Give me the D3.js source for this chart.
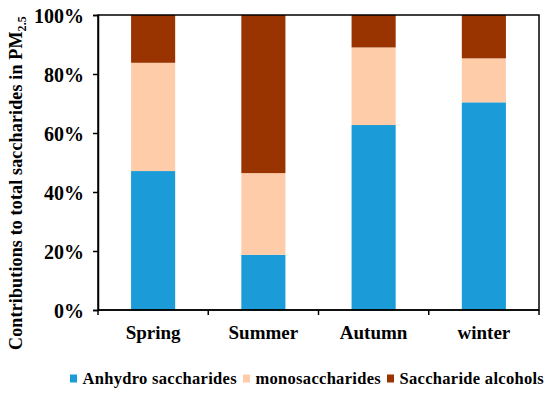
<!DOCTYPE html>
<html><head><meta charset="utf-8">
<script src="https://cdn.jsdelivr.net/npm/d3@7"></script>
<style>body{margin:0;background:#fff}svg{display:block}</style>
</head><body><svg id="c" width="550" height="394"></svg>
<script>
const categories = ["Spring","Summer","Autumn","winter"];
const seriesNames = ["Anhydro saccharides","monosaccharides","Saccharide alcohols"];
const anhydro = [0.471, 0.187, 0.627, 0.704];
const mono = [0.367, 0.277, 0.263, 0.149];
const alcohols = [0.162, 0.536, 0.110, 0.147];
const yTicks = [0,0.2,0.4,0.6,0.8,1.0];
const colors = ["#1B9BD7","#FFCCAA","#993300"];
const FONT = "'Liberation Serif', 'Times New Roman', 'DejaVu Serif', serif";

const svg = d3.select("#c");
const m = {l:98, r:539, t:15, b:310};
const x = d3.scaleBand().domain(categories).range([m.l,m.r]).paddingInner(0.6).paddingOuter(0.3);
const y = d3.scaleLinear().domain([0,1]).range([m.b,m.t]);

const data = categories.map((c,i)=>({cat:c, a:anhydro[i], m:mono[i], s:alcohols[i]}));
const stack = d3.stack().keys(["a","m","s"])(data);
svg.append("g").selectAll("g").data(stack).join("g").attr("fill",(d,i)=>colors[i])
  .selectAll("rect").data(d=>d).join("rect")
  .attr("x",d=>x(d.data.cat)).attr("width",x.bandwidth())
  .attr("y",d=>y(d[1])).attr("height",d=>y(d[0])-y(d[1]));

svg.append("rect").attr("x",m.l).attr("y",m.t).attr("width",m.r-m.l).attr("height",m.b-m.t)
  .attr("fill","none").attr("stroke","#000").attr("stroke-width",1.5);

const ya = svg.append("g").attr("transform",`translate(${m.l},0)`)
  .call(d3.axisLeft(y).tickValues(yTicks).tickFormat(d3.format(".0%")).tickSize(5).tickPadding(9));
ya.attr("font-family",null).attr("font-size",null);
ya.select(".domain").attr("stroke","#000").attr("stroke-width",1.5);
ya.selectAll(".tick line").attr("stroke","#000").attr("stroke-width",1.5);
ya.selectAll("text").attr("dy","0.35em").attr("fill","#000")
  .style("font-family",FONT).style("font-weight","bold").style("font-size","20px");

const step = x.step();
const bounds = [m.l].concat(categories.map(c=>x(c)-x.paddingOuter()*step + step)).slice(0,5);
const xa = svg.append("g").attr("transform",`translate(0,${m.b})`);
xa.append("line").attr("x1",m.l).attr("x2",m.r).attr("stroke","#000").attr("stroke-width",1.5);
xa.selectAll("line.t").data(bounds).join("line").attr("class","t")
  .attr("x1",d=>d).attr("x2",d=>d).attr("y1",0).attr("y2",5).attr("stroke","#000").attr("stroke-width",1.5);
xa.selectAll("text").data(categories).join("text")
  .attr("x",d=>x(d)+x.bandwidth()/2).attr("y",29).attr("text-anchor","middle")
  .style("font-family",FONT).style("font-weight","bold").style("font-size","19px").text(d=>d);

svg.append("text").attr("transform","translate(22,183) rotate(-90)").attr("text-anchor","middle")
  .style("font-family",FONT).style("font-weight","bold").style("font-size","18px")
  .style("letter-spacing","0.15px")
  .html('Contributions to total saccharides in PM<tspan dy="4" style="font-size:12px">2.5</tspan>');

const lg = svg.append("g");
const lx = [70, 243, 387];
seriesNames.forEach((n,i)=>{
  lg.append("rect").attr("x",lx[i]).attr("y",374.5).attr("width",7).attr("height",8).attr("fill",colors[i]);
  lg.append("text").attr("x",lx[i]+12.5).attr("y",384)
    .style("font-family",FONT).style("font-weight","bold").style("font-size","16.5px")
    .style("letter-spacing","0.3px").text(n);
});
</script></body></html>
